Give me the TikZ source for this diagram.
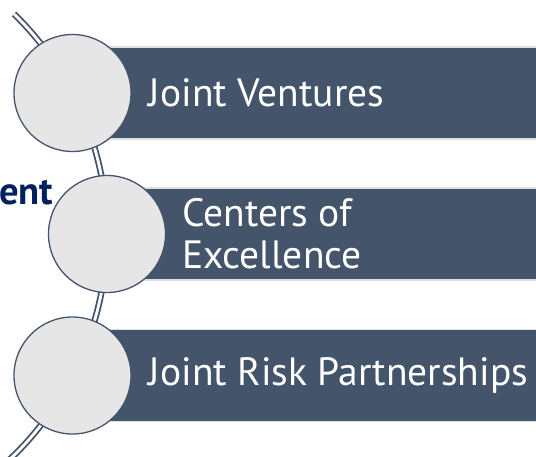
\documentclass[tikz,border=0pt]{standalone}
\usepackage{fontspec}
\setmainfont{PT Sans}
\usetikzlibrary{positioning}
\definecolor{slate}{HTML}{44546A}
\definecolor{pebble}{HTML}{E7E6E6}
\definecolor{navy}{HTML}{002060}
\pgfdeclarelayer{bg}
\pgfsetlayers{bg,main}
\tikzset{
	disc/.style = {circle, draw=slate, fill=pebble, line width=1.3pt,
		minimum size=117pt, inner sep=0pt},% cercle gris
	bar/.style = {rectangle, fill=slate, draw=black!12, line width=1.3pt,
		minimum height=92pt, anchor=west, inner sep=0pt},% bandeau
	bartext/.style = {white, align=left, inner sep=0pt, anchor=west,
		font=\fontsize{39.5}{42}\selectfont},% texte du bandeau
	rail/.style = {draw=slate, double=white, line width=1.8pt,
		double distance=2.8pt, looseness=0.86}% arc double
}

\begin{document}
\begin{tikzpicture}[x=1pt,y=1pt]
	\useasboundingbox (0,0) rectangle (536,-456);
	\node [disc] (c1) at (72.5,-93) {};
	\node [disc] (c2) at (107,-234) {};
	\node [disc] (c3) at (72.5,-375.5) {};
	\coordinate (railtop) at (14,-14);
	\coordinate (railbot) at (9,-460);
	\begin{pgfonlayer}{bg}
		\node [bar, minimum width=470pt] (b1) at (c1.center) {};
		\node [bar, minimum width=436pt] (b2) at (c2.center) {};
		\node [bar, minimum width=470pt] (b3) at (c3.center) {};
		\draw [rail] (railtop) to[out=-44, in=117.5] (c1.center)
			to[out=-62.5, in=90] (c2.center)
			to[out=-90, in=62.4] (c3.center)
			to[out=-117.6, in=42.6] (railbot);
	\end{pgfonlayer}
	\node [bartext] (t1) at ([xshift=17pt]c1.east) {Joint Ventures};
	\node [bartext] (t2) at ([xshift=16pt]c2.east) {Centers of\\Excellence};
	\node [bartext] (t3) at ([xshift=17pt]c3.east) {Joint Risk Partnerships};
	\node [navy, inner sep=0pt, anchor=base west, font=\fontsize{38.6}{42}\selectfont\bfseries]
		(side) at (-1,-204) {ent};
\end{tikzpicture}
\end{document}
